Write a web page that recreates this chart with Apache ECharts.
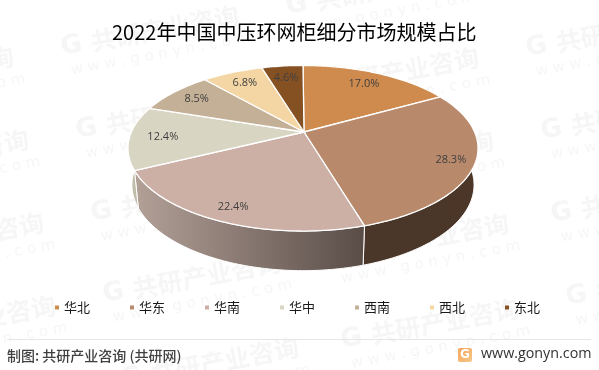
<!DOCTYPE html>
<html>
<head>
<meta charset="utf-8">
<style>html,body{margin:0;padding:0;background:#fff}#c{width:599px;height:370px}</style>
<script src="https://cdn.jsdelivr.net/npm/echarts@6/dist/echarts.min.js"></script>
</head>
<body>
<div id="c"></div>
<script>
const categories = ['华北','华东','华南','华中','西南','西北','东北'];
const shares = [17.0,28.3,22.4,12.4,8.5,6.8,4.6];
const topColors = ['#CF8B4E','#B9896C','#CCB0A5','#D9D5C3','#C4B096','#F4D6A5','#865122'];
const sideFills = [
  '#8a6140',
  {type:'linear',x:0,y:0,x2:1,y2:0,colorStops:[{offset:0,color:'#4a3729'},{offset:1,color:'#4b3628'}]},
  {type:'linear',x:0,y:0,x2:1,y2:0,colorStops:[{offset:0,color:'#b3a198'},{offset:1,color:'#594c47'}]},
  '#bfbcaa','#a8977f','#c9b088','#6c421c'
];
const labelRadius = [0.79,0.87,0.866,0.81,0.81,0.80,0.79];
const titleText = '2022年中国中压环网柜细分市场规模占比';
const sourceText = '制图: 共研产业咨询 (共研网)';
const siteText = 'www.gonyn.com';
const watermarkText = '共研产业咨询';
const watermarkSite = 'w w w . g o n y n . c o m';

// perspective projection of the pie disc (apex at cy, further points compressed)
const top3d = {cx:303, cy:132, A:171.6, B:79.6, k:0.1964};
const bottom3d = {cx:303, cy:168, A:167.7, B:82.5, k:0.1964};
function project(p, frac, theta){
  const u = frac*Math.sin(theta), v = frac*Math.cos(theta), w = 1 + p.k*v;
  return [p.cx + p.A*u/w, p.cy - p.B*v/w];
}
function arc(p, a0, a1){
  const n = Math.max(4, Math.ceil((a1-a0)/0.02)), pts = [];
  for(let i=0;i<=n;i++) pts.push(project(p,1,a0+(a1-a0)*i/n));
  return pts;
}
const total = shares.reduce((a,b)=>a+b,0);
function startOf(i){ let s=0; for(let j=0;j<i;j++) s+=shares[j]; return s; }

const series = categories.map((name,i)=>({
  type:'custom', name, coordinateSystem:'none', silent:true, z:2,
  itemStyle:{color:topColors[i]},
  data:[[shares[i]]],
  renderItem:(params,api)=>{
    const a0 = startOf(i)/total*2*Math.PI;
    const a1 = a0 + api.value(0)/total*2*Math.PI;
    const mid = (a0+a1)/2;
    const topArc = arc(top3d,a0,a1);
    const botArc = arc(bottom3d,a0,a1).reverse();
    const lp = project(top3d,labelRadius[i],mid);
    return {type:'group',children:[
      {type:'polygon',z2:1,shape:{points:topArc.concat(botArc)},
        style:{fill:sideFills[i],stroke:'#fff',lineWidth:1}},
      {type:'polygon',z2:10,shape:{points:[[top3d.cx+1,top3d.cy]].concat(topArc)},
        style:{fill:topColors[i],stroke:'#fff',lineWidth:1.3,lineJoin:'round'}},
      {type:'text',z2:20,style:{x:lp[0],y:lp[1],text:api.value(0).toFixed(1)+'%',
        fill:'#404040',font:'11px "Open Sans"',align:'center',verticalAlign:'middle'}}
    ]};
  }
}));

const wmOrigins = [[65,47],[290,6],[515,-35],[80,130],[305,89],[530,48],[95,213],[320,172],[545,131],
  [107,294],[335,255],[555,214],[125,379],[345,340],[570,297],[-145,171],[-130,254],[-118,337],[-160,88]];
const wmColor = '#f6f6f6';
const watermarks = [];
wmOrigins.forEach(o=>{
  const rot = 10.5*Math.PI/180;
  watermarks.push(
    {type:'text',z:0,x:o[0]-4,y:o[1]+1,rotation:rot,originX:0,originY:0,
     style:{text:'G',fill:wmColor,font:'bold 26px "DejaVu Sans"',verticalAlign:'middle',align:'left'}},
    {type:'text',z:0,x:o[0]+26,y:o[1]-5,rotation:rot,originX:0,originY:0,
     style:{text:watermarkText,fill:wmColor,font:'bold 25px "Noto Sans CJK SC"',verticalAlign:'middle',align:'left'}},
    {type:'text',z:0,x:o[0]+6,y:o[1]+24,rotation:rot,originX:0,originY:0,
     style:{text:watermarkSite,fill:wmColor,font:'15px "DejaVu Sans"',verticalAlign:'middle',align:'left'}}
  );
});

const chart = echarts.init(document.getElementById('c'),null,{renderer:'canvas'});
chart.setOption({
  animation:false,
  backgroundColor:'#fff',
  title:{text:titleText,left:112,top:22,padding:0,
    textStyle:{fontFamily:'"Noto Sans CJK SC"',fontSize:20,fontWeight:'normal',color:'#000'}},
  legend:{left:55,top:301,padding:0,icon:'rect',itemWidth:4,itemHeight:4,itemGap:40,selectedMode:false,
    data:categories,
    textStyle:{fontFamily:'"Noto Sans CJK SC"',fontSize:13,color:'#1a1a1a'}},
  series,
  graphic:watermarks.concat([
    {type:'line',z:5,shape:{x1:7,y1:339.5,x2:591,y2:339.5},style:{stroke:'#e6e6e6',lineWidth:1}},
    {type:'text',z:5,x:7,y:356,style:{text:sourceText,fill:'#404040',font:'500 14px "Noto Sans CJK SC"',verticalAlign:'middle'}},
    {type:'rect',z:5,shape:{x:458,y:348,width:14,height:14,r:2},
     style:{fill:{type:'linear',x:0,y:0,x2:1,y2:1,colorStops:[{offset:0,color:'#f9a458'},{offset:1,color:'#f5c78a'}]}}},
    {type:'text',z:6,x:465,y:355,style:{text:'G',fill:'#fff',font:'bold 12px "DejaVu Sans"',align:'center',verticalAlign:'middle'}},
    {type:'text',z:5,x:481,y:354,style:{text:siteText,fill:'#333',font:'14.3px "Open Sans"',verticalAlign:'middle'}}
  ])
});
</script>
</body>
</html>
